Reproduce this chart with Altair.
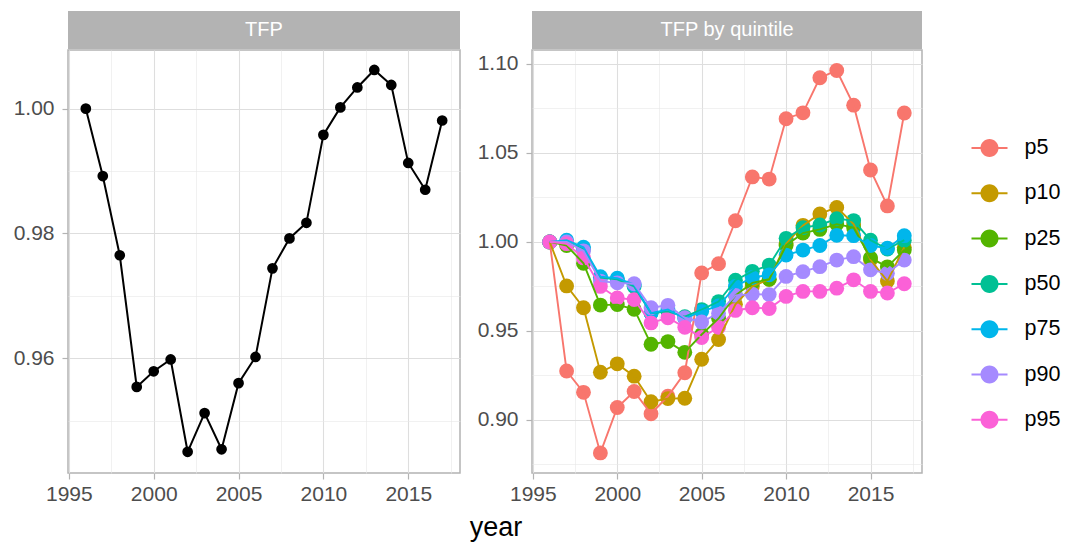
import altair as alt
import pandas as pd

years = [1996, 1997, 1998, 1999, 2000, 2001, 2002, 2003, 2004, 2005, 2006,
         2007, 2008, 2009, 2010, 2011, 2012, 2013, 2014, 2015, 2016, 2017]

tfp = [1.000, 0.9892, 0.9765, 0.9554, 0.9579, 0.9598, 0.9450, 0.9512, 0.9454,
       0.9560, 0.9602, 0.9744, 0.9792, 0.9817, 0.9958, 1.0002, 1.0034, 1.0062,
       1.0038, 0.9913, 0.9870, 0.9981]

series_names = ["p5", "p10", "p25", "p50", "p75", "p90", "p95"]
series_colors = ["#F8766D", "#C49A00", "#53B400", "#00C094", "#00B6EB", "#A58AFF", "#FB61D7"]

p5 = [1.000, 0.9275, 0.9155, 0.8815, 0.9070, 0.9160, 0.9035, 0.9133, 0.9265, 0.9826, 0.9878,
      1.0119, 1.0365, 1.0353, 1.0692, 1.0725, 1.0922, 1.0963, 1.0768, 1.0404, 1.0202, 1.0724]
p10 = [1.000, 0.9753, 0.9630, 0.9268, 0.9315, 0.9246, 0.9102, 0.9120, 0.9122, 0.9341, 0.9452,
       0.9650, 0.9750, 0.9790, 0.9990, 1.0093, 1.0157, 1.0194, 1.0100, 0.9900, 0.9780, 0.9970]
p25 = [1.000, 0.9980, 0.9880, 0.9645, 0.9648, 0.9622, 0.9425, 0.9440, 0.9380, 0.9480, 0.9570,
       0.9700, 0.9770, 0.9790, 0.9980, 1.0050, 1.0070, 1.0100, 1.0080, 0.9910, 0.9860, 0.9955]
p50 = [1.000, 1.0000, 0.9960, 0.9800, 0.9790, 0.9750, 0.9600, 0.9610, 0.9580, 0.9620, 0.9665,
       0.9785, 0.9835, 0.9870, 1.0020, 1.0080, 1.0095, 1.0130, 1.0120, 1.0010, 0.9960, 1.0010]
p75 = [1.000, 1.0010, 0.9970, 0.9805, 0.9796, 0.9760, 0.9600, 0.9620, 0.9570, 0.9610, 0.9640,
       0.9750, 0.9800, 0.9815, 0.9926, 0.9954, 0.9980, 1.0037, 1.0035, 0.9980, 0.9965, 1.0035]
p90 = [1.000, 1.0000, 0.9950, 0.9780, 0.9770, 0.9765, 0.9630, 0.9644, 0.9574, 0.9550, 0.9600,
       0.9700, 0.9707, 0.9704, 0.9806, 0.9833, 0.9861, 0.9898, 0.9917, 0.9843, 0.9824, 0.9898]
p95 = [1.000, 0.9990, 0.9910, 0.9750, 0.9685, 0.9676, 0.9545, 0.9574, 0.9520, 0.9463, 0.9520,
       0.9615, 0.9630, 0.9626, 0.9694, 0.9722, 0.9722, 0.9740, 0.9787, 0.9722, 0.9713, 0.9765]

x_ticks = [1995, 1997.5, 2000, 2002.5, 2005, 2007.5, 2010, 2012.5, 2015, 2017.5]
left_y_ticks = [0.95, 0.96, 0.97, 0.98, 0.99, 1.00]
left_y_major = [0.96, 0.98, 1.0]
right_y_ticks = [0.875, 0.9, 0.925, 0.95, 0.975, 1.0, 1.025, 1.05, 1.075, 1.1]
right_y_major = [0.9, 0.95, 1.0, 1.05, 1.1]

x_domain = [1994.95, 2018.05]
left_y_domain = [0.9416, 1.0094]
right_y_domain = [0.8702, 1.1078]

df_left = pd.DataFrame({"year": years, "tfp": tfp})
rows = []
for name, vals in zip(series_names, [p5, p10, p25, p50, p75, p90, p95]):
    for yr, v in zip(years, vals):
        rows.append({"year": yr, "series": name, "value": v})
df_right = pd.DataFrame(rows)

FONT = "Liberation Sans"
LW, RW, H = 392, 390, 423
STRIP_H = 38

def minor_cond(test, minor_val, major_val):
    return {"condition": {"test": test, "value": minor_val}, "value": major_val}

x_minor_test = "datum.value % 5 != 0"

def x_axis(**kw):
    return alt.Axis(values=x_ticks, format="d", labelFlush=False,
                    labelExpr="datum.value % 5 == 0 ? datum.label : ''",
                    tickOpacity=minor_cond(x_minor_test, 0, 1),
                    gridWidth=minor_cond(x_minor_test, 0.6, 1.1),
                    gridColor=minor_cond(x_minor_test, "#e8e8e8", "#dedede"),
                    **kw)

def y_axis(ticks, major):
    arr = "[" + ",".join(repr(v) for v in major) + "]"
    test = "indexof(" + arr + ", datum.value) < 0"
    return alt.Axis(values=ticks, title=None, labelFlush=False,
                    labelExpr="indexof(" + arr + ", datum.value) >= 0 ? format(datum.value, '.2f') : ''",
                    tickOpacity=minor_cond(test, 0, 1),
                    gridWidth=minor_cond(test, 0.6, 1.1),
                    gridColor=minor_cond(test, "#e8e8e8", "#dedede"))

def strip(label, w):
    base = alt.Chart(pd.DataFrame({"label": [label]}))
    rect = base.mark_rect(color="#b3b3b3").encode(
        x=alt.value(0), x2=alt.value(w), y=alt.value(-STRIP_H - 1), y2=alt.value(-1))
    text = base.mark_text(color="white", fontSize=20, font=FONT, baseline="middle").encode(
        x=alt.value(w / 2), y=alt.value(-STRIP_H / 2 - 1), text="label:N")
    return rect, text

# Left panel
lx = alt.X("year:Q", scale=alt.Scale(domain=x_domain, nice=False, zero=False),
           axis=x_axis(title="year", titleX=427.5, titleY=62, titleAlign="center",
                       titleBaseline="alphabetic", titleFontSize=27, titleColor="black",
                       titleFontWeight="normal", titleFont=FONT))
ly = alt.Y("tfp:Q", scale=alt.Scale(domain=left_y_domain, nice=False, zero=False),
           axis=y_axis(left_y_ticks, left_y_major))
left_base = alt.Chart(df_left)
left_pts = left_base.mark_point(filled=True, size=115, color="black", opacity=1).encode(x=lx, y=ly)
left_line = left_base.mark_line(color="black", strokeWidth=2).encode(x=lx, y=ly)
ls_rect, ls_text = strip("TFP", LW)
left = alt.layer(left_pts, left_line, ls_rect, ls_text).properties(width=LW, height=H)

# Right panel
rx = alt.X("year:Q", scale=alt.Scale(domain=x_domain, nice=False, zero=False),
           axis=x_axis(title=None))
ry = alt.Y("value:Q", scale=alt.Scale(domain=right_y_domain, nice=False, zero=False),
           axis=y_axis(right_y_ticks, right_y_major))
legend_path = ("M-1,-0.055H1V0.055H-1Z "
               "M0.5,0A0.5,0.5,0,1,1,-0.5,0A0.5,0.5,0,1,1,0.5,0Z")
rc = alt.Color("series:N", scale=alt.Scale(domain=series_names, range=series_colors),
               legend=alt.Legend(title=None, orient="none", legendX=903.5, legendY=80,
                                 symbolType=legend_path, symbolSize=1296,
                                 symbolStrokeWidth=0, labelFontSize=21.5, labelColor="black",
                                 labelFont=FONT, labelOffset=17, rowPadding=16.3, padding=0))
right_base = alt.Chart(df_right)
right_pts = right_base.mark_point(filled=True, size=220, opacity=1).encode(x=rx, y=ry, color=rc)
right_line = right_base.mark_line(strokeWidth=1.9).encode(x=rx, y=ry, color=rc)
rs_rect, rs_text = strip("TFP by quintile", RW)
right = alt.layer(right_pts, right_line, rs_rect, rs_text).properties(width=RW, height=H)

chart = alt.hconcat(left, right, spacing=72, bounds="flush").properties(
    padding={"left": 4, "top": 2, "right": 0, "bottom": 2}
).configure_view(
    stroke="#b3b3b3", strokeWidth=1.5
).configure_axis(
    domain=False, labelFont=FONT, labelFontSize=21, labelColor="#4d4d4d",
    tickColor="#b3b3b3", tickSize=6, tickWidth=1.2, labelPadding=4
).configure_axisY(
    labelPadding=8
)

chart.save("out.html", embed_options={"renderer": "svg", "actions": False})
